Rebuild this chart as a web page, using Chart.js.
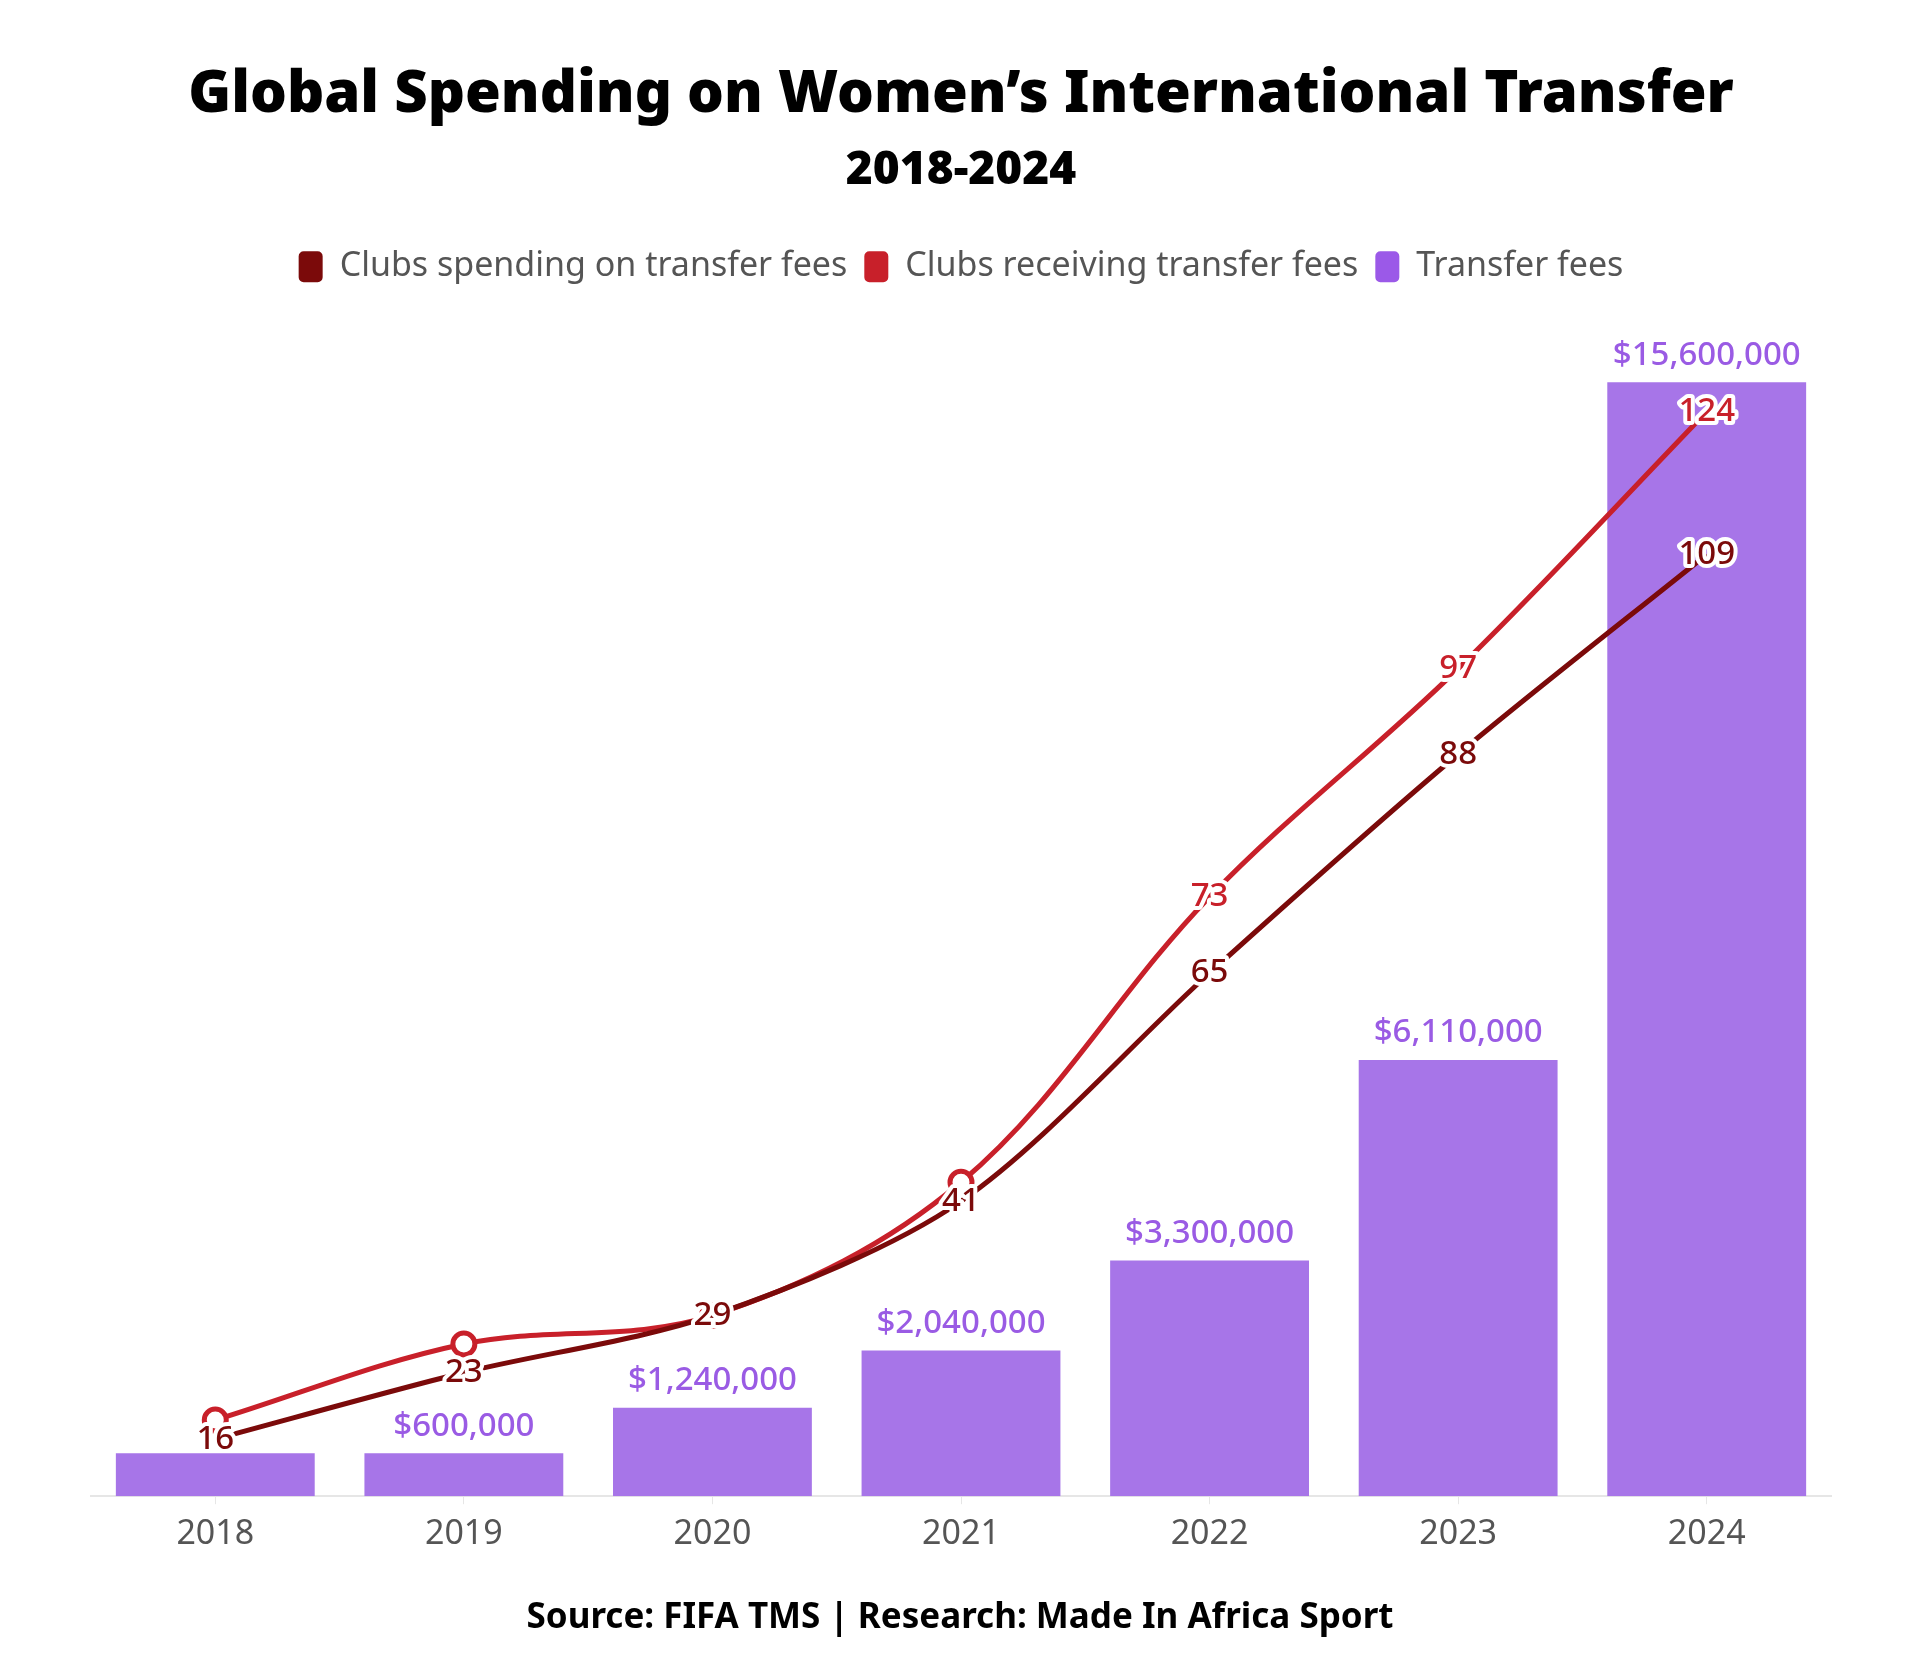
<!DOCTYPE html>
<html>
<head>
<meta charset="utf-8">
<script src="https://cdn.jsdelivr.net/npm/chart.js@4.4.1/dist/chart.umd.min.js"></script>
<style>
  body { margin: 0; background: #fff; }
  #wrap { position: relative; width: 1920px; height: 1665px; }
  #source {
    position: absolute; left: 0; right: 0; top: 1591px;
    text-align: center; font: bold 35px 'Noto Sans', sans-serif; color: #000;
  }
</style>
</head>
<body>
<div id="wrap">
  <canvas id="transferChart"></canvas>
  <div id="source">Source: FIFA TMS | Research: Made In Africa Sport</div>
</div>
<script>
// Data
const years = ['2018', '2019', '2020', '2021', '2022', '2023', '2024'];
const clubsSpending = [16, 23, 29, 41, 65, 88, 109];
const clubsReceiving = [18, 26, 29, 43, 73, 97, 124];
const transferFees = [600000, 600000, 1240000, 2040000, 3300000, 6110000, 15600000];

const DARK_RED = '#7b0a0a';
const RED = '#c8202a';
const PURPLE = '#a775e8';
const PURPLE_TEXT = '#9a5be4';
const LABEL_GAP = 34;

function spendY(chart, i) {
    return chart.scales.y1.getPixelForValue(clubsSpending[i]);
}

// receiving label is dropped when it would sit on top of the spending label
function recvLabelHidden(chart, i) {
    const y1 = chart.scales.y1;
    return Math.abs(y1.getPixelForValue(clubsReceiving[i]) - spendY(chart, i)) < LABEL_GAP;
}

const valueLabels = {
    id: 'valueLabels',
    afterDatasetsDraw(chart) {
        const ctx = chart.ctx;
        ctx.save();
        ctx.textAlign = 'center';
        ctx.textBaseline = 'middle';

        // bar labels
        const barMeta = chart.getDatasetMeta(2);
        ctx.font = '500 33px "Noto Sans", sans-serif';
        ctx.fillStyle = PURPLE_TEXT;
        barMeta.data.forEach((bar, i) => {
            const y = bar.y - 27;
            if (Math.abs(y - spendY(chart, i)) < LABEL_GAP) return;
            ctx.fillText('$' + transferFees[i].toLocaleString('en-US'), bar.x, y);
        });

        // line labels with white halo
        ctx.font = '500 33px "Noto Sans", sans-serif';
        ctx.lineWidth = 8;
        ctx.lineJoin = 'round';
        ctx.strokeStyle = '#fff';
        const drawLabel = (text, x, y, color) => {
            ctx.strokeText(text, x, y);
            ctx.fillStyle = color;
            ctx.fillText(text, x, y);
        };
        chart.getDatasetMeta(1).data.forEach((pt, i) => {
            if (recvLabelHidden(chart, i)) return;
            drawLabel(String(clubsReceiving[i]), pt.x, pt.y, RED);
        });
        chart.getDatasetMeta(0).data.forEach((pt, i) => {
            drawLabel(String(clubsSpending[i]), pt.x, pt.y, DARK_RED);
        });
        ctx.restore();
    }
};

Chart.defaults.font.family = "'Noto Sans', sans-serif";

const ctx = document.getElementById('transferChart').getContext('2d');
new Chart(ctx, {
    type: 'bar',
    data: {
        labels: years,
        datasets: [{
            type: 'line',
            label: 'Clubs spending on transfer fees',
            data: clubsSpending,
            yAxisID: 'y1',
            borderColor: DARK_RED,
            backgroundColor: DARK_RED,
            borderWidth: 5,
            tension: 0.3,
            pointRadius: 0,
            order: 0
        }, {
            type: 'line',
            label: 'Clubs receiving transfer fees',
            data: clubsReceiving,
            yAxisID: 'y1',
            borderColor: RED,
            backgroundColor: RED,
            borderWidth: 5,
            tension: 0.35,
            pointRadius: c => recvLabelHidden(c.chart, c.dataIndex) ? 11 : 0,
            pointBorderWidth: 5,
            pointBorderColor: RED,
            pointBackgroundColor: '#fff',
            order: 1
        }, {
            label: 'Transfer fees',
            data: transferFees,
            yAxisID: 'y',
            backgroundColor: PURPLE,
            borderWidth: 0,
            barPercentage: 0.8,
            categoryPercentage: 1,
            order: 2
        }]
    },
    options: {
        responsive: true,
        maintainAspectRatio: false,
        animation: false,
        layout: {
            padding: { top: 0, left: 91, right: 89, bottom: 100 }
        },
        plugins: {
            title: {
                display: true,
                text: 'Global Spending on Women\u2019s International Transfer',
                color: '#000',
                font: { size: 58, weight: '900' },
                padding: { top: 61, bottom: 13 }
            },
            subtitle: {
                display: true,
                text: '2018-2024',
                color: '#000',
                font: { size: 46, weight: '900' },
                padding: { top: 0, bottom: 34 }
            },
            legend: {
                labels: {
                    color: '#555',
                    font: { size: 34 },
                    boxWidth: 24,
                    boxHeight: 31,
                    useBorderRadius: true,
                    borderRadius: 5,
                    padding: 17,
                    generateLabels(chart) {
                        return Chart.defaults.plugins.legend.labels.generateLabels(chart).map(item => {
                            item.lineWidth = 0;
                            item.fillStyle = item.text === 'Transfer fees' ? '#9b59e8' : item.strokeStyle;
                            return item;
                        });
                    }
                }
            },
            tooltip: { enabled: false }
        },
        scales: {
            x: {
                grid: {
                    drawOnChartArea: false,
                    offset: false,
                    tickLength: 8,
                    color: '#e6e6e6'
                },
                border: { color: '#e6e6e6', width: 2 },
                ticks: {
                    color: '#555',
                    padding: 10,
                    font: { size: 34 }
                }
            },
            y: {
                display: false,
                min: 0,
                max: 16840000
            },
            y1: {
                display: false,
                position: 'right',
                min: 10,
                max: 136.4
            }
        }
    },
    plugins: [valueLabels]
});
</script>
</body>
</html>
